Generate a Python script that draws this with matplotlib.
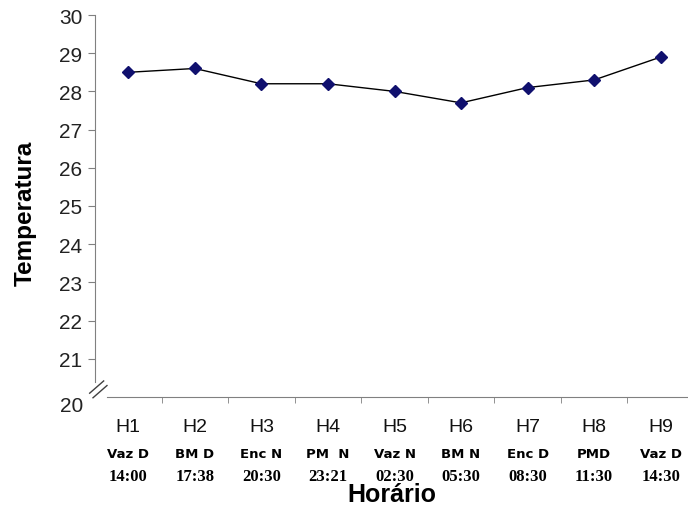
import matplotlib
matplotlib.use("Agg")
import matplotlib.pyplot as plt
import matplotlib.transforms as mtransforms

# temperatura por horario
horarios = ['H1', 'H2', 'H3', 'H4', 'H5', 'H6', 'H7', 'H8', 'H9']
periodos = ['Vaz D', 'BM D', 'Enc N', 'PM  N', 'Vaz N', 'BM N', 'Enc D', 'PMD', 'Vaz D']
horas = ['14:00', '17:38', '20:30', '23:21', '02:30', '05:30', '08:30', '11:30', '14:30']
temperatura = [28.5, 28.6, 28.2, 28.2, 28.0, 27.7, 28.1, 28.3, 28.9]

fig = plt.figure(figsize=(6.88, 5.06), dpi=100)
ax = fig.add_axes([95/688, 108/506, 599/688, 382/506])

x = list(range(len(horarios)))
ax.plot(x, temperatura, color='black', linewidth=1.0, marker='D', markersize=6,
        markerfacecolor='#10106e', markeredgecolor='#10106e', zorder=3)

ax.set_xlim(-0.5, 8.5)
ax.set_ylim(20, 30)

for s in ['top', 'right']:
    ax.spines[s].set_visible(False)
ax.spines['left'].set_color('#808080')
ax.spines['bottom'].set_color('#808080')
ax.spines['left'].set_bounds(20.4, 30)
ax.spines['bottom'].set_bounds(-0.32, 8.5)

# quebra do eixo
ax.plot([-0.53, -0.32], [19.98, 20.3], color='#404040', lw=1.0, clip_on=False)
ax.plot([-0.58, -0.37], [20.1, 20.42], color='#404040', lw=1.0, clip_on=False)

ax.set_yticks(range(21, 31))
ax.tick_params(axis='y', direction='out', length=5, color='#808080',
               labelsize=15, labelcolor='#222222', pad=4)
for lbl in ax.get_yticklabels():
    lbl.set_fontfamily('Liberation Sans')
ax.text(-0.25, 20, '20', transform=mtransforms.offset_copy(ax.transData, fig=fig, x=-28, y=-9, units='dots'),
        ha='right', va='center', fontsize=15, color='#222222', fontfamily='Liberation Sans')

ax.set_xticks(x)
ax.set_xticklabels(horarios, fontsize=14, fontfamily='Liberation Sans', color='#111111')
ax.set_xticks([i + 0.5 for i in range(8)], minor=True)
ax.tick_params(axis='x', which='major', length=0, pad=15)
ax.tick_params(axis='x', which='minor', direction='out', length=4, color='#808080')

trans = mtransforms.blended_transform_factory(ax.transData, fig.transFigure)
for i in x:
    ax.text(i, (506 - 455) / 506, periodos[i], transform=trans, ha='center', va='center',
            fontsize=9.5, fontweight='bold', fontfamily='DejaVu Sans')
    ax.text(i, (506 - 477) / 506, horas[i], transform=trans, ha='center', va='center',
            fontsize=12, fontweight='bold', fontfamily='Liberation Serif')

fig.text(392/688, 3.5/506, 'Horário', ha='center', va='baseline',
         fontsize=18, fontweight='bold', fontfamily='Liberation Sans')
fig.text(25/688, (506 - 213) / 506, 'Temperatura', ha='center', va='center', rotation=90,
         fontsize=17.5, fontweight='bold', fontfamily='Liberation Sans')

fig.savefig("out.png", dpi=100)
